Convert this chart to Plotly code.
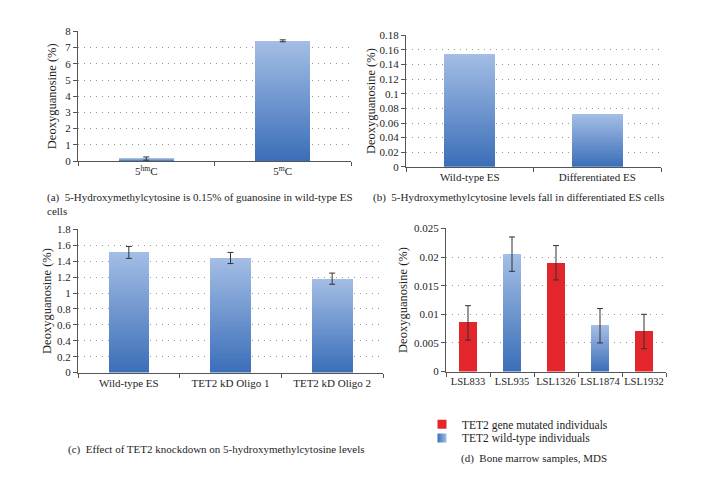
import plotly.graph_objects as go

# ---------------- data ----------------
a_labels = ["5<sup>hm</sup>C", "5<sup>m</sup>C"]
a_values = [0.15, 7.42]
a_errors = [0.10, 0.06]

b_labels = ["Wild-type ES", "Differentiated ES"]
b_values = [0.155, 0.072]

c_labels = ["Wild-type ES", "TET2 kD Oligo 1", "TET2 kD Oligo 2"]
c_values = [1.51, 1.44, 1.18]
c_errors = [0.075, 0.07, 0.07]

d_labels = ["LSL833", "LSL935", "LSL1326", "LSL1874", "LSL1932"]
d_values = [0.0085, 0.0205, 0.019, 0.008, 0.007]
d_errors = [0.003, 0.003, 0.003, 0.003, 0.003]
d_mutated = [True, False, True, False, True]

legend_names = ["TET2 gene mutated individuals", "TET2 wild-type individuals"]
captions = [
    "(a)  5-Hydroxymethylcytosine is 0.15% of guanosine in wild-type ES<br>cells",
    "(b)  5-Hydroxymethylcytosine levels fall in differentiated ES cells",
    "(c)  Effect of TET2 knockdown on 5-hydroxymethylcytosine levels",
    "(d)  Bone marrow samples, MDS",
]
y_title = "Deoxyguanosine (%)"

# ---------------- style ----------------
FONT = "Liberation Serif"
TXT = "#1e1e1e"
DARK = (58, 110, 184)
LIGHT = (164, 190, 229)
RED = "#e3262b"
NSEG = 40
W, H = 724, 479


def mix(t):
    r = [round(DARK[i] + (LIGHT[i] - DARK[i]) * t) for i in range(3)]
    return f"rgb({r[0]},{r[1]},{r[2]})"


fig = go.Figure()


def add_panel(labels, values, errors, ax, red_mask=None):
    xa, ya = ("x" + ax, "y" + ax) if ax != "1" else ("x", "y")
    for k in range(NSEG):
        t = (k + 0.5) / NSEG
        cols = []
        for i in range(len(values)):
            if red_mask is not None and red_mask[i]:
                cols.append(RED)
            else:
                cols.append(mix(t))
        fig.add_trace(go.Bar(
            x=labels, y=[v / NSEG for v in values], width=0.4,
            marker=dict(color=cols, line=dict(width=0)),
            xaxis=xa, yaxis=ya, showlegend=False, hoverinfo="skip",
        ))
    if errors is not None:
        fig.add_trace(go.Scatter(
            x=labels, y=values, mode="markers",
            marker=dict(size=1, color="rgba(0,0,0,0)"),
            error_y=dict(type="data", array=errors, color="#333333",
                         thickness=1, width=3),
            xaxis=xa, yaxis=ya, showlegend=False, hoverinfo="skip",
        ))


add_panel(a_labels, a_values, a_errors, "1")
add_panel(b_labels, b_values, None, "2")
add_panel(c_labels, c_values, c_errors, "3")
add_panel(d_labels, d_values, d_errors, "4", d_mutated)

# legend entries (two independent legends so the row spacing matches)
fig.add_trace(go.Scatter(
    x=[None], y=[None], mode="markers", name=legend_names[0], legend="legend",
    marker=dict(symbol="square", size=9, color=RED),
    xaxis="x4", yaxis="y4"))
fig.add_trace(go.Scatter(
    x=[None], y=[None], mode="markers", name=legend_names[1], legend="legend2",
    marker=dict(symbol="square", size=9, color=mix(0.0),
                gradient=dict(type="horizontal", color=mix(1.0))),
    xaxis="x4", yaxis="y4"))


def px_x(p):
    return p / W


def px_y(p):
    return 1 - p / H


def xaxis(dom, n, fs=11):
    return dict(domain=[px_x(dom[0]), px_x(dom[1])], type="category",
                range=[-0.5, n - 0.5], showline=True, linecolor="#555555",
                linewidth=1, ticks="outside", tickson="boundaries",
                ticklen=4, tickcolor="#555555", showgrid=False, tickangle=0,
                tickfont=dict(family=FONT, size=fs, color=TXT),
                fixedrange=True)


def yaxis(dom, top, dt, anchor):
    return dict(domain=[px_y(dom[1]), px_y(dom[0])], range=[0, top * 1.0005],
                dtick=dt, tick0=0, showline=True, linecolor="#555555",
                linewidth=1, ticks="outside", ticklen=4, tickcolor="#555555",
                showgrid=True, gridcolor="#9a9a9a", griddash="1px,5px",
                gridwidth=1, zeroline=False, anchor=anchor,
                tickfont=dict(family=FONT, size=11, color=TXT),
                fixedrange=True)


leg_common = dict(xanchor="left", yanchor="middle",
                  font=dict(family=FONT, size=11.5, color=TXT),
                  bgcolor="rgba(0,0,0,0)", itemwidth=30, tracegroupgap=0,
                  borderwidth=0)

fig.update_layout(
    width=W, height=H, margin=dict(l=0, r=0, t=0, b=0),
    paper_bgcolor="white", plot_bgcolor="white",
    barmode="stack", bargap=0.6,
    font=dict(family=FONT, color=TXT),
    xaxis=xaxis((78, 351), 2), yaxis=yaxis((26, 159), 8, 1, "x"),
    xaxis2=xaxis((406, 661), 2), yaxis2=yaxis((30, 165), 0.18, 0.02, "x2"),
    xaxis3=xaxis((78, 383), 3), yaxis3=yaxis((229, 376), 1.8, 0.2, "x3"),
    xaxis4=xaxis((446, 666), 5, 10.5), yaxis4=yaxis((228, 375), 0.025, 0.005, "x4"),
    legend=dict(x=px_x(422), y=px_y(429), **leg_common),
    legend2=dict(x=px_x(422), y=px_y(443), **leg_common),
)
fig.update_layout(xaxis2_anchor="y2", xaxis3_anchor="y3", xaxis4_anchor="y4",
                  xaxis_anchor="y")

ann = []
# y-axis titles
for xp, (y0, y1) in [(52, (26, 159)), (371, (30, 165)), (47, (229, 376)), (403, (228, 375))]:
    ann.append(dict(text=y_title, x=px_x(xp), y=px_y((y0 + y1) / 2), xref="paper",
                    yref="paper", textangle=-90, showarrow=False,
                    xanchor="center", yanchor="middle",
                    font=dict(family=FONT, size=12.5, color=TXT)))
# captions
for txt, xp, yp in [(captions[0], 45, 203),
                    (captions[1], 371, 196),
                    (captions[2], 66, 455),
                    (captions[3], 459, 464)]:
    ann.append(dict(text=txt, x=px_x(xp), y=px_y(yp), xref="paper", yref="paper",
                    showarrow=False, xanchor="left", yanchor="middle", align="left",
                    font=dict(family=FONT, size=11, color=TXT)))
fig.update_layout(annotations=ann)

fig.write_html("out.html")
